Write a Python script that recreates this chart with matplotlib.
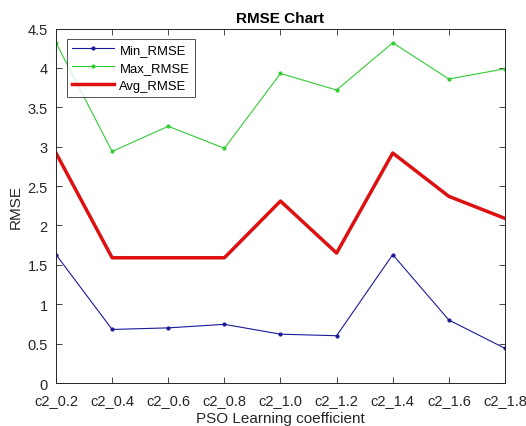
import matplotlib
matplotlib.use("Agg")
import matplotlib.pyplot as plt

categories = ["c2_0.2", "c2_0.4", "c2_0.6", "c2_0.8", "c2_1.0", "c2_1.2", "c2_1.4", "c2_1.6", "c2_1.8"]
min_rmse = [1.63, 0.68, 0.70, 0.745, 0.62, 0.60, 1.63, 0.80, 0.44]
max_rmse = [4.32, 2.94, 3.26, 2.98, 3.93, 3.72, 4.32, 3.86, 3.99]
avg_rmse = [2.92, 1.59, 1.59, 1.59, 2.31, 1.65, 2.92, 2.37, 2.09]
yticks = [0, 0.5, 1, 1.5, 2, 2.5, 3, 3.5, 4, 4.5]
ytick_labels = ["0", "0.5", "1", "1.5", "2", "2.5", "3", "3.5", "4", "4.5"]

plt.rcParams['font.family'] = ['Liberation Sans', 'DejaVu Sans']

fig = plt.figure(figsize=(5.26, 4.27), dpi=100)
ax = fig.add_axes([0.1065, 0.1007, 0.8535, 0.830])
x = list(range(len(categories)))
ax.plot(x, min_rmse, color='#1a1a9a', lw=0.8, marker='.', ms=4, label='Min_RMSE')
ax.plot(x, max_rmse, color='#33cc33', lw=0.8, marker='.', ms=4, label='Max_RMSE')
ax.plot(x, avg_rmse, color='#dd1111', lw=2.5, label='Avg_RMSE')

ax.set_xlim(0, len(categories) - 1)
ax.set_ylim(0, 4.5)
ax.set_xticks(x)
ax.set_xticklabels(categories)
ax.set_yticks(yticks)
ax.set_yticklabels(ytick_labels)
ax.tick_params(direction='in', top=True, right=True, labelsize=10.5, colors='#262626', length=4, width=0.6)
ax.tick_params(axis='x', pad=7)
ax.tick_params(axis='y', pad=6)
for s in ax.spines.values():
    s.set_color('#262626')
    s.set_linewidth(0.7)
ax.set_xlabel('PSO Learning coefficient', fontsize=11, color='#262626', labelpad=3)
ax.set_ylabel('RMSE', fontsize=11, color='#262626', labelpad=3)
ax.set_title('RMSE Chart', fontsize=11, fontweight='bold', pad=5)
leg = ax.legend(loc='upper left', fontsize=9.4, frameon=True, fancybox=False, edgecolor='#262626',
                bbox_to_anchor=(0.025, 0.972), borderaxespad=0, handlelength=3.2,
                labelspacing=0.45, borderpad=0.4, handletextpad=0.4)
leg.get_frame().set_linewidth(0.7)
fig.savefig('out.png', dpi=100, facecolor='white')
